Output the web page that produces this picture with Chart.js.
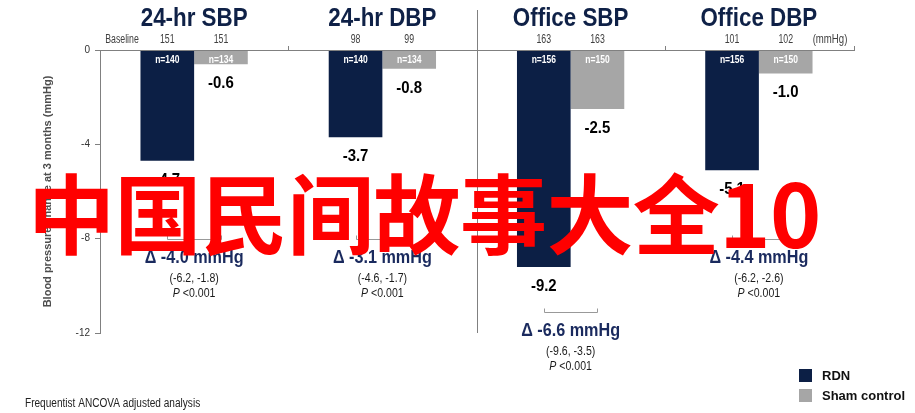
<!DOCTYPE html>
<html>
<head>
<meta charset="utf-8">
<script src="https://cdn.jsdelivr.net/npm/chart.js@4/dist/chart.umd.min.js"></script>
<style>
    body { margin: 0; background: #fff; }
    #wrap { position: relative; width: 915px; height: 413px; overflow: hidden; }
    #chart { position: absolute; left: 0; top: 0; }
    #stamp {
        position: absolute; left: 28px; top: 167px;
        font: 700 87px/87px "Noto Sans CJK SC", sans-serif;
        letter-spacing: -0.6px;
        color: #ff0000; white-space: nowrap; pointer-events: none;
    }
</style>
</head>
<body>
<div id="wrap">
    <canvas id="chart" width="915" height="413"></canvas>
    <div id="stamp">中国民间故事大全10</div>
</div>
<script>
    // ==================== DATA ====================
    const groups = ['24-hr SBP', '24-hr DBP', 'Office SBP', 'Office DBP'];
    const seriesNames = ['RDN', 'Sham control'];
    const rdnChange = [-4.7, -3.7, -9.2, -5.1];
    const shamChange = [-0.6, -0.8, -2.5, -1.0];
    const rdnBaseline = [151, 98, 163, 101];
    const shamBaseline = [151, 99, 163, 102];
    const rdnN = [140, 140, 156, 156];
    const shamN = [134, 134, 150, 150];
    const deltas = [-4.0, -3.1, -6.6, -4.4];
    const ciLow = [-6.2, -4.6, -9.6, -6.2];
    const ciHigh = [-1.8, -1.7, -3.5, -2.6];
    const pText = ['<0.001', '<0.001', '<0.001', '<0.001'];
    const yTicks = [0, -4, -8, -12];

    const SANS = "'Liberation Sans', Arial, sans-serif";
    const NAVY = '#0c1f45';
    const GRAY = '#a6a6a6';
    const LINE = '#808080';

    function fmt(v) { return v.toFixed(1); }

    // text squeezed horizontally (the original uses a narrow face)
    function drawText(ctx, str, x, y, font, color, align, sx) {
        ctx.save();
        ctx.font = font;
        ctx.fillStyle = color;
        ctx.textAlign = align || 'center';
        ctx.textBaseline = 'middle';
        ctx.translate(x, y);
        ctx.scale(sx || 1, 1);
        ctx.fillText(str, 0, 0);
        ctx.restore();
    }

    // Annotation layer: titles, baselines, n, values, brackets, deltas, legend
    const annotations = {
        id: 'annotations',
        afterDraw(chart) {
            const ctx = chart.ctx;
            const area = chart.chartArea;
            const x = chart.scales.x;
            const y = chart.scales.y;
            const y0 = y.getPixelForValue(0);
            const rdnBars = chart.getDatasetMeta(0).data;
            const shamBars = chart.getDatasetMeta(1).data;
            const edge = i => (x.getPixelForValue(i) + x.getPixelForValue(i + 1)) / 2;

            ctx.save();

            // zero line + small ticks + divider
            ctx.strokeStyle = LINE;
            ctx.lineWidth = 1;
            ctx.beginPath();
            ctx.moveTo(area.left, y0 + 0.5);
            ctx.lineTo(area.right + 2, y0 + 0.5);
            [edge(0), edge(2), area.right + 1].forEach(px => {
                ctx.moveTo(Math.round(px) + 0.5, y0 - 4);
                ctx.lineTo(Math.round(px) + 0.5, y0);
            });
            const mid = Math.round(edge(1)) + 0.5;
            ctx.moveTo(mid, 10);
            ctx.lineTo(mid, area.bottom);
            ctx.stroke();

            // group titles
            groups.forEach((g, i) => drawText(ctx, g, x.getPixelForValue(i), 19, `bold 26px ${SANS}`, '#0f2147', 'center', 0.86));

            // baseline row
            drawText(ctx, 'Baseline', 122, 40, `12px ${SANS}`, '#404040', 'center', 0.73);
            drawText(ctx, '(mmHg)', 830, 40, `12px ${SANS}`, '#404040', 'center', 0.8);
            groups.forEach((g, i) => {
                drawText(ctx, String(rdnBaseline[i]), rdnBars[i].x, 40, `12px ${SANS}`, '#404040', 'center', 0.73);
                drawText(ctx, String(shamBaseline[i]), shamBars[i].x, 40, `12px ${SANS}`, '#404040', 'center', 0.73);
            });

            // n inside bars
            groups.forEach((g, i) => {
                drawText(ctx, 'n=' + rdnN[i], rdnBars[i].x, y0 + 10, `bold 10px ${SANS}`, '#ffffff', 'center', 0.85);
                drawText(ctx, 'n=' + shamN[i], shamBars[i].x, y0 + 10, `bold 10px ${SANS}`, '#ffffff', 'center', 0.85);
            });

            // values under bars
            groups.forEach((g, i) => {
                drawText(ctx, fmt(rdnChange[i]), rdnBars[i].x, rdnBars[i].y + 19, `bold 17px ${SANS}`, '#000000', 'center', 0.88);
                drawText(ctx, fmt(shamChange[i]), shamBars[i].x, shamBars[i].y + 19, `bold 17px ${SANS}`, '#000000', 'center', 0.88);
            });

            // brackets and difference text
            const floorY = y.getPixelForValue(-8);
            groups.forEach((g, i) => {
                const bx1 = Math.round(rdnBars[i].x) + 0.5;
                const bx2 = Math.round(shamBars[i].x) + 0.5;
                const by = Math.round(Math.max(floorY, rdnBars[i].y + 45)) + 0.5;
                const cx = x.getPixelForValue(i);
                ctx.strokeStyle = '#999999';
                ctx.lineWidth = 1;
                ctx.beginPath();
                ctx.moveTo(bx1, by - 4);
                ctx.lineTo(bx1, by);
                ctx.lineTo(bx2, by);
                ctx.lineTo(bx2, by - 4);
                ctx.stroke();

                drawText(ctx, 'Δ ' + fmt(deltas[i]) + ' mmHg', cx, by + 19, `bold 18px ${SANS}`, '#1a2a5e', 'center', 0.9);
                drawText(ctx, '(' + fmt(ciLow[i]) + ', ' + fmt(ciHigh[i]) + ')', cx, by + 39, `12px ${SANS}`, '#1a1a1a', 'center', 0.88);

                ctx.font = `italic 12px ${SANS}`;
                const wP = ctx.measureText('P ').width * 0.88;
                ctx.font = `12px ${SANS}`;
                const wR = ctx.measureText(pText[i]).width * 0.88;
                const sx = cx - (wP + wR) / 2;
                drawText(ctx, 'P ', sx, by + 54, `italic 12px ${SANS}`, '#1a1a1a', 'left', 0.88);
                drawText(ctx, pText[i], sx + wP, by + 54, `12px ${SANS}`, '#1a1a1a', 'left', 0.88);
            });

            // legend
            chart.data.datasets.forEach((ds, k) => {
                const ly = 369 + k * 20;
                ctx.fillStyle = ds.backgroundColor;
                ctx.fillRect(799, ly, 13, 13);
                drawText(ctx, ds.label, 822, ly + 7, `bold 13px ${SANS}`, '#111111', 'left', 1);
            });

            // footnote
            drawText(ctx, 'Frequentist ANCOVA adjusted analysis', 25, 404, `12px ${SANS}`, '#222222', 'left', 0.84);

            ctx.restore();
        }
    };

    new Chart(document.getElementById('chart'), {
        type: 'bar',
        data: {
            labels: groups,
            datasets: [
                { label: seriesNames[0], data: rdnChange, backgroundColor: NAVY },
                { label: seriesNames[1], data: shamChange, backgroundColor: GRAY }
            ]
        },
        options: {
            responsive: false,
            animation: false,
            categoryPercentage: 0.57,
            barPercentage: 1.0,
            layout: { padding: { top: 50, right: 62, bottom: 80, left: 0 } },
            plugins: { legend: { display: false }, tooltip: { enabled: false } },
            scales: {
                x: { display: false },
                y: {
                    min: -12,
                    max: 0,
                    afterBuildTicks: scale => { scale.ticks = yTicks.map(v => ({ value: v })); },
                    afterFit: scale => { scale.width = 100; },
                    ticks: { color: '#333333', font: { family: SANS, size: 10 }, padding: 5 },
                    grid: { drawOnChartArea: false, tickLength: 5, color: LINE },
                    border: { color: LINE },
                    title: {
                        display: true,
                        text: 'Blood pressure change at 3 months (mmHg)',
                        color: '#4d4d4d',
                        font: { family: SANS, size: 11, weight: 'bold' },
                        padding: 41
                    }
                }
            }
        },
        plugins: [annotations]
    });
</script>
</body>
</html>
